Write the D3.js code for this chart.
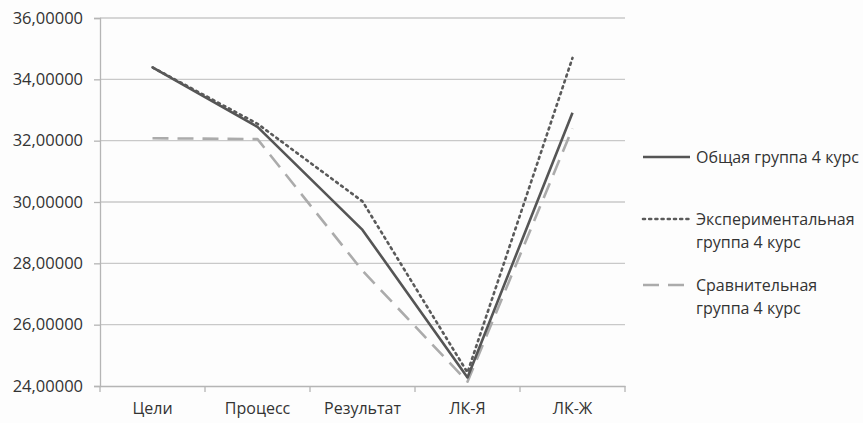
<!DOCTYPE html>
<html>
<head>
<meta charset="utf-8">
<script src="https://cdn.jsdelivr.net/npm/d3@7"></script>
<style>
  body { margin: 0; background: #fdfdfd; }
  svg { display: block; }
  text { font-family: "Open Sans", sans-serif; fill: #333; }
</style>
</head>
<body>
<svg id="chart" width="863" height="423"></svg>
<script>
const categories = ["Цели", "Процесс", "Результат", "ЛК-Я", "ЛК-Ж"];
const general      = [34.39, 32.45, 29.09, 24.28, 32.91];
const experimental = [34.39, 32.55, 30.02, 24.44, 34.70];
const comparative  = [32.08, 32.05, 27.76, 24.14, 32.40];
const yTicks = [24, 26, 28, 30, 32, 34, 36];
const legendLabels = [["Общая группа 4 курс"], ["Экспериментальная", "группа 4 курс"], ["Сравнительная", "группа 4 курс"]];

const series = [
  { values: general,      color: "#555555", dash: null,    width: 2.6, label: legendLabels[0] },
  { values: experimental, color: "#5a5a5a", dash: "2,4.2", width: 2.6, label: legendLabels[1] },
  { values: comparative,  color: "#ababab", dash: "16,9",  width: 2.6, label: legendLabels[2] }
];

const svg = d3.select("#chart");
const plotLeft = 100, plotRight = 625, plotTop = 18, plotBottom = 386;

const x = d3.scaleBand().domain(categories).range([plotLeft, plotRight]).padding(0);
const y = d3.scaleLinear().domain([24, 36]).range([plotBottom, plotTop]);

// horizontal gridlines
svg.append("g").selectAll("line").data(yTicks.slice(1)).join("line")
  .attr("x1", plotLeft).attr("x2", plotRight)
  .attr("y1", d => y(d)).attr("y2", d => y(d))
  .attr("stroke", "#c9c9c9").attr("stroke-width", 1.3);

// y axis
const yAxis = svg.append("g").attr("transform", `translate(${plotLeft},0)`)
  .call(d3.axisLeft(y).tickValues(yTicks).tickSize(6).tickPadding(11)
    .tickFormat(d => d3.format(".5f")(d).replace(".", ",")));
yAxis.select(".domain").attr("stroke", "#b5b5b5").attr("stroke-width", 1.3);
yAxis.selectAll(".tick line").attr("stroke", "#b5b5b5").attr("stroke-width", 1.3);
yAxis.selectAll("text").style("font-size", "16.5px").attr("fill", "#333");

// x axis
const xAxis = svg.append("g").attr("transform", `translate(0,${plotBottom})`)
  .call(d3.axisBottom(x).tickSize(0).tickPadding(17));
xAxis.select(".domain").attr("stroke", "#b5b5b5").attr("stroke-width", 1.3);
xAxis.selectAll("text").style("font-size", "16px").attr("fill", "#333");
svg.append("g").selectAll("line")
  .data(categories.map(c => x(c)).concat([plotRight]))
  .join("line")
  .attr("x1", d => d).attr("x2", d => d)
  .attr("y1", plotBottom).attr("y2", plotBottom + 6)
  .attr("stroke", "#b5b5b5").attr("stroke-width", 1.3);

// series lines
const line = d3.line()
  .x((d, i) => x(categories[i]) + x.bandwidth() / 2)
  .y(d => y(d));

[series[2], series[0], series[1]].forEach(s => {
  svg.append("path")
    .datum(s.values)
    .attr("d", line)
    .attr("fill", "none")
    .attr("stroke", s.color)
    .attr("stroke-width", s.width)
    .attr("stroke-dasharray", s.dash)
    .attr("stroke-linecap", s.dash === "2,4.2" ? "round" : "butt")
    .attr("stroke-linejoin", "round");
});

// legend
const legendY = [157, 219, 285];
series.forEach((s, i) => {
  const g = svg.append("g").attr("transform", `translate(0,${legendY[i]})`);
  g.append("line")
    .attr("x1", 643).attr("x2", 690).attr("y1", 0).attr("y2", 0)
    .attr("stroke", s.color).attr("stroke-width", s.width)
    .attr("stroke-dasharray", s.dash)
    .attr("stroke-linecap", s.dash === "2,4.2" ? "round" : "butt");
  s.label.forEach((t, j) => {
    g.append("text")
      .attr("x", 696).attr("y", j * 23)
      .attr("dy", "0.35em")
      .style("font-size", "16px")
      .text(t);
  });
});
</script>
</body>
</html>
